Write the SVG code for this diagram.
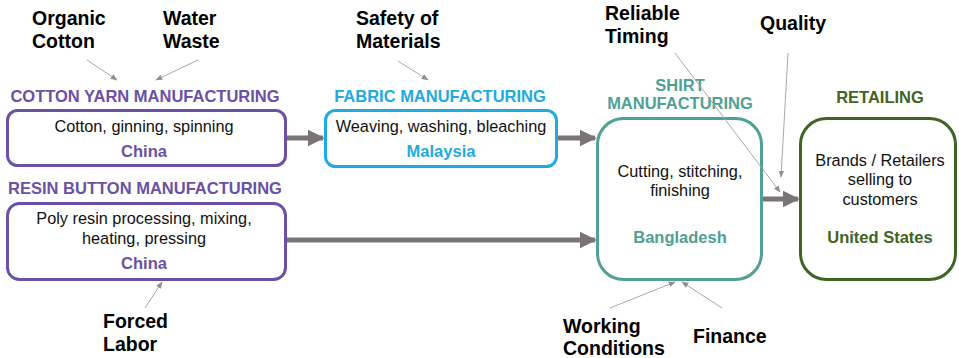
<svg xmlns="http://www.w3.org/2000/svg" width="959" height="358" viewBox="0 0 959 358">
<defs>
<style>
text{font-family:"Liberation Sans",Arial,sans-serif}
.t{font-size:16.5px;font-weight:bold;text-anchor:middle}
.b{font-size:16.3px;fill:#111;text-anchor:middle}
.n{font-size:19.5px;font-weight:bold;fill:#000}
.flow{stroke:#7a7474;stroke-width:5;fill:none}
.thin{stroke:#a8a8a8;stroke-width:1;fill:none}
.purple{fill:#6a51a6}.cyan{fill:#1fabe0}.teal{fill:#4fa095}.green{fill:#3f6424}
</style>
<marker id="big" viewBox="0 0 10 10" refX="9" refY="5" markerWidth="3.4" markerHeight="3.6" orient="auto" markerUnits="strokeWidth"><path d="M0,0 L10,5 L0,10 z" fill="#7a7474"/></marker>
<marker id="small" viewBox="0 0 10 10" refX="9" refY="5" markerWidth="7" markerHeight="7" orient="auto" markerUnits="strokeWidth"><path d="M0,1 L10,5 L0,9 z" fill="#909090"/></marker>
</defs>
<rect width="959" height="358" fill="#fff"/>

<g id="cotton">
<text class="t purple" x="145" y="102">COTTON YARN MANUFACTURING</text>
<rect x="7.5" y="110.5" width="278" height="55" rx="10" fill="#fff" stroke="#6a51a6" stroke-width="3"/>
<text class="b" x="144" y="132">Cotton, ginning, spinning</text>
<text class="t purple" x="144" y="157">China</text>
</g>

<g id="fabric">
<text class="t cyan" x="440" y="102">FABRIC MANUFACTURING</text>
<rect x="325.5" y="110.5" width="231" height="56" rx="10" fill="#fff" stroke="#1fabe0" stroke-width="3"/>
<text class="b" x="441" y="132">Weaving, washing, bleaching</text>
<text class="t cyan" x="441" y="157">Malaysia</text>
</g>

<g id="resin">
<text class="t purple" x="145" y="194">RESIN BUTTON MANUFACTURING</text>
<rect x="7.5" y="203.5" width="278" height="76" rx="12" fill="#fff" stroke="#6a51a6" stroke-width="3"/>
<text class="b" x="144" y="224">Poly resin processing, mixing,</text>
<text class="b" x="144" y="244">heating, pressing</text>
<text class="t purple" x="144" y="269">China</text>
</g>

<g id="shirt">
<text class="t teal" x="680" y="91">SHIRT</text>
<text class="t teal" x="680" y="109">MANUFACTURING</text>
<rect x="597.5" y="118.5" width="164" height="161" rx="26" fill="#fff" stroke="#4fa095" stroke-width="3"/>
<text class="b" x="680" y="177">Cutting, stitching,</text>
<text class="b" x="680" y="196">finishing</text>
<text class="t teal" x="680" y="243">Bangladesh</text>
</g>

<g id="retail">
<text class="t green" x="880" y="103">RETAILING</text>
<rect x="800.5" y="118.5" width="155" height="161" rx="26" fill="#fff" stroke="#3f6424" stroke-width="3"/>
<text class="b" x="880" y="166">Brands / Retailers</text>
<text class="b" x="880" y="185">selling to</text>
<text class="b" x="880" y="205">customers</text>
<text class="t green" x="880" y="243">United States</text>
</g>

<g id="connectors">
<line class="flow" x1="287" y1="138" x2="323" y2="138" marker-end="url(#big)"/>
<line class="flow" x1="558" y1="138" x2="595" y2="138" marker-end="url(#big)"/>
<line class="flow" x1="287" y1="240" x2="595" y2="240" marker-end="url(#big)"/>
<line class="flow" x1="763" y1="199" x2="798" y2="199" marker-end="url(#big)"/>
<line class="thin" x1="87" y1="60" x2="117" y2="80" marker-end="url(#small)"/>
<line class="thin" x1="198" y1="60" x2="156" y2="80" marker-end="url(#small)"/>
<line class="thin" x1="398" y1="61" x2="428" y2="80" marker-end="url(#small)"/>
<line class="thin" x1="675" y1="53" x2="780" y2="192" marker-end="url(#small)"/>
<line class="thin" x1="788" y1="53" x2="781" y2="177" marker-end="url(#small)"/>
<line class="thin" x1="145" y1="308" x2="162" y2="282" marker-end="url(#small)"/>
<line class="thin" x1="610" y1="308" x2="675" y2="282" marker-end="url(#small)"/>
<line class="thin" x1="722" y1="308" x2="682" y2="282" marker-end="url(#small)"/>
</g>

<g id="labels">
<text class="n" x="32" y="25">Organic</text>
<text class="n" x="32" y="48">Cotton</text>
<text class="n" x="163" y="25">Water</text>
<text class="n" x="163" y="48">Waste</text>
<text class="n" x="356" y="25">Safety of</text>
<text class="n" x="356" y="48">Materials</text>
<text class="n" x="605" y="20">Reliable</text>
<text class="n" x="605" y="43">Timing</text>
<text class="n" x="760" y="30">Quality</text>
<text class="n" x="103" y="328">Forced</text>
<text class="n" x="103" y="351">Labor</text>
<text class="n" x="563" y="333">Working</text>
<text class="n" x="563" y="355">Conditions</text>
<text class="n" x="693" y="343">Finance</text>
</g>
</svg>
